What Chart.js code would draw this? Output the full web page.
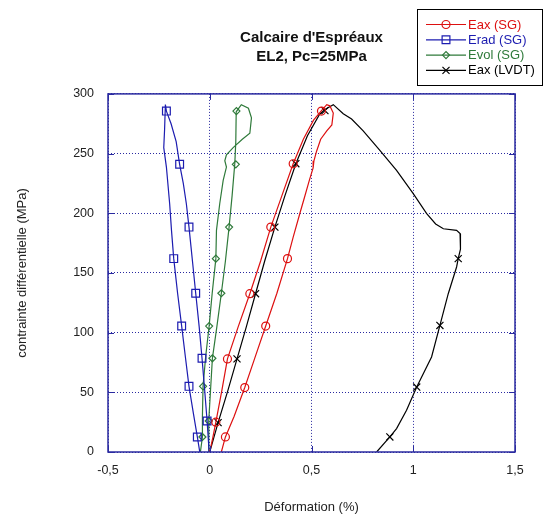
<!DOCTYPE html>
<html>
<head>
<meta charset="utf-8">
<script src="https://cdn.jsdelivr.net/npm/chart.js@4"></script>
<style>
  html, body { margin: 0; padding: 0; background: #fff; }
  #wrap { width: 544px; height: 516px; }
</style>
</head>
<body>
<div id="wrap"><canvas id="courbe"></canvas></div>
<script>
// traces: [deformation %, contrainte MPa]
const eaxSG = [[0.0,0],[0.015,12],[0.03,25],[0.06,52],[0.087,78],[0.14,105],[0.197,132.6],[0.25,160],[0.30,188.4],
  [0.355,215],[0.41,241.5],[0.46,262],[0.51,278],[0.549,286],[0.575,291],[0.59,290],[0.607,284],[0.60,274],
  [0.575,269],[0.545,262],[0.525,252],[0.512,244],[0.508,238],[0.49,228],[0.465,213],[0.443,200],[0.41,180],
  [0.382,162],[0.33,133],[0.275,105.5],[0.22,78],[0.172,54],[0.12,30],[0.077,12.6],[0.057,0]];
const eaxSGMarks = [[0.03,25],[0.087,78],[0.197,132.6],[0.30,188.4],[0.41,241.5],[0.549,285.6],
  [0.077,12.6],[0.172,54],[0.275,105.5],[0.382,162]];

const eradSG = [[-0.003,0],[-0.013,26],[-0.025,52],[-0.038,78.5],[-0.052,105],[-0.069,133],[-0.085,160],
  [-0.102,188.4],[-0.115,208],[-0.13,225],[-0.148,241],[-0.165,260],[-0.19,275],[-0.213,285.6],[-0.218,291],
  [-0.222,270],[-0.226,255],[-0.213,238.7],[-0.197,208],[-0.188,185.7],[-0.177,162],[-0.158,133],
  [-0.138,105.5],[-0.12,80],[-0.102,55],[-0.08,32],[-0.061,12.6],[-0.049,0]];
const eradSGMarks = [[-0.013,26],[-0.038,78.5],[-0.069,133],[-0.102,188.4],[-0.148,241],[-0.213,285.6],
  [-0.061,12.6],[-0.102,55],[-0.138,105.5],[-0.177,162]];

const evolSG = [[-0.008,0],[-0.005,26],[0.013,78.5],[0.035,105],[0.057,133],[0.077,160],[0.095,188.4],
  [0.11,215],[0.123,241.5],[0.128,260],[0.13,285],[0.155,291],[0.19,288],[0.205,280],[0.197,267],
  [0.16,262],[0.115,255],[0.082,249],[0.074,244],[0.082,238.7],[0.066,227.5],[0.049,208],[0.033,185.7],
  [0.030,162],[0.012,133],[-0.003,105.5],[-0.02,80],[-0.033,55],[-0.036,30],[-0.036,12.6],[-0.046,0]];
const evolSGMarks = [[-0.005,26],[0.013,78.5],[0.057,133],[0.095,188.4],[0.128,241],[0.131,285.6],
  [-0.036,12.6],[-0.033,55],[-0.003,105.5],[0.030,162]];

const eaxLVDT = [[0,0],[0.02,12],[0.041,24.6],[0.09,52],[0.134,78],[0.18,105],[0.225,132.6],[0.27,160],
  [0.32,188.4],[0.37,215],[0.423,241.5],[0.48,265],[0.54,283],[0.566,287],[0.607,291],[0.656,283.4],
  [0.697,279],[0.754,269],[0.836,252.7],[0.918,236],[1.0,216.4],[1.066,199.7],[1.11,191],[1.148,187],
  [1.213,185.7],[1.23,183],[1.232,170],[1.221,162],[1.213,155],[1.172,132.6],[1.131,106],[1.09,79.6],
  [1.017,54.4],[0.967,35],[0.918,19.6],[0.885,12.6],[0.82,0]];
const eaxLVDTMarks = [[0.041,24.6],[0.134,78],[0.225,132.6],[0.32,188.4],[0.423,241.5],[0.566,286],
  [0.885,12.6],[1.017,54.4],[1.131,106],[1.221,162]];

const seriesNames = ['Eax (SG)', 'Erad (SG)', 'Evol (SG)', 'Eax (LVDT)'];
const xTicks = [-0.5, 0, 0.5, 1, 1.5];
const yTicks = [0, 50, 100, 150, 200, 250, 300];

const FONT = "'Liberation Sans', Arial, sans-serif";
const AXE = '#2a2aa0';

const styles = [
  { color: '#dd1010', pointStyle: 'circle',   radius: 4 },
  { color: '#1c1cb0', pointStyle: 'rect',     radius: 5.5 },
  { color: '#2f7a3a', pointStyle: 'rectRot',  radius: 3.5 },
  { color: '#000000', pointStyle: 'crossRot', radius: 5 },
];
const traces  = [eaxSG, eradSG, evolSG, eaxLVDT];
const repères = [eaxSGMarks, eradSGMarks, evolSGMarks, eaxLVDTMarks];

const toXY = arr => arr.map(p => ({ x: p[0], y: p[1] }));

const datasets = [];
traces.forEach((t, i) => {
  datasets.push({
    label: seriesNames[i],
    data: toXY(t),
    showLine: true,
    borderColor: styles[i].color,
    borderWidth: 1.2,
    pointRadius: 0,
    tension: 0,
  });
  datasets.push({
    label: seriesNames[i] + ' marques',
    data: toXY(repères[i]),
    showLine: false,
    pointStyle: styles[i].pointStyle,
    pointRadius: styles[i].radius,
    pointBorderColor: styles[i].color,
    pointBackgroundColor: 'rgba(0,0,0,0)',
    pointBorderWidth: 1.2,
  });
});

// cadre du graphe, petits traits de graduation et legende encadree
const decor = {
  id: 'decor',
  afterDatasetsDraw(chart) {
    const { ctx, chartArea: a, scales } = chart;
    ctx.save();
    ctx.strokeStyle = AXE;
    ctx.lineWidth = 1.5;
    ctx.strokeRect(a.left, a.top, a.right - a.left, a.bottom - a.top);
    ctx.lineWidth = 1;
    ctx.beginPath();
    xTicks.forEach(v => {
      const px = Math.round(scales.x.getPixelForValue(v)) + 0.5;
      ctx.moveTo(px, a.bottom); ctx.lineTo(px, a.bottom - 6);
      ctx.moveTo(px, a.top);    ctx.lineTo(px, a.top + 6);
    });
    yTicks.forEach(v => {
      const py = Math.round(scales.y.getPixelForValue(v)) + 0.5;
      ctx.moveTo(a.left, py);  ctx.lineTo(a.left + 6, py);
      ctx.moveTo(a.right, py); ctx.lineTo(a.right - 6, py);
    });
    ctx.stroke();
    ctx.restore();
  },
  afterDraw(chart) {
    const ctx = chart.ctx;
    ctx.save();
    ctx.strokeStyle = '#000';
    ctx.lineWidth = 1;
    ctx.strokeRect(417.5, 9.5, 125, 76);
    ctx.font = '13px ' + FONT;
    ctx.textBaseline = 'middle';
    seriesNames.forEach((name, i) => {
      const y = 24.5 + i * 15.3;
      const s = styles[i];
      ctx.strokeStyle = s.color;
      ctx.lineWidth = 1.2;
      ctx.beginPath();
      ctx.moveTo(426, y); ctx.lineTo(466, y);
      ctx.stroke();
      ctx.fillStyle = 'rgba(0,0,0,0)';
      Chart.helpers.drawPoint(ctx, { pointStyle: s.pointStyle, radius: s.radius, rotation: 0, borderWidth: 1.2 }, 446, y);
      ctx.fillStyle = s.color;
      ctx.fillText(name, 468, y + 0.5);
    });
    ctx.restore();
  }
};

new Chart(document.getElementById('courbe'), {
  type: 'scatter',
  data: { datasets },
  options: {
    responsive: true,
    maintainAspectRatio: false,
    animation: false,
    layout: { padding: { left: 0, right: 29, top: 0, bottom: 0 } },
    scales: {
      x: {
        type: 'linear',
        min: -0.5, max: 1.5,
        afterBuildTicks: s => { s.ticks = xTicks.map(v => ({ value: v })); },
        afterFit: s => { s.height = 64; },
        border: { display: false, dash: [1, 2] },
        grid: { color: AXE, lineWidth: 1, drawTicks: false },
        ticks: {
          padding: 11,
          color: '#222',
          font: { family: FONT, size: 12.5 },
          callback: v => String(v).replace('.', ','),
        },
        title: {
          display: true,
          text: 'Déformation (%)',
          color: '#222',
          font: { family: FONT, size: 13 },
          padding: { top: 0, bottom: 0.5 },
        },
      },
      y: {
        type: 'linear',
        min: 0, max: 300,
        afterBuildTicks: s => { s.ticks = yTicks.map(v => ({ value: v })); },
        afterFit: s => { s.width = 108; },
        border: { display: false, dash: [1, 2] },
        grid: { color: AXE, lineWidth: 1, drawTicks: false },
        ticks: {
          padding: 14,
          color: '#222',
          font: { family: FONT, size: 12.5 },
        },
        title: {
          display: true,
          text: 'contrainte différentielle (MPa)',
          color: '#222',
          font: { family: FONT, size: 13 },
          padding: { top: 15, bottom: 0 },
        },
      },
    },
    plugins: {
      legend: { display: false },
      tooltip: { enabled: false },
      title: {
        display: true,
        fullSize: false,
        text: ["Calcaire d'Espréaux", 'EL2, Pc=25MPa'],
        color: '#111',
        font: { family: FONT, size: 15, weight: 'bold', lineHeight: 1.23 },
        padding: { top: 29, bottom: 28 },
      },
    },
  },
  plugins: [decor],
});
</script>
</body>
</html>
